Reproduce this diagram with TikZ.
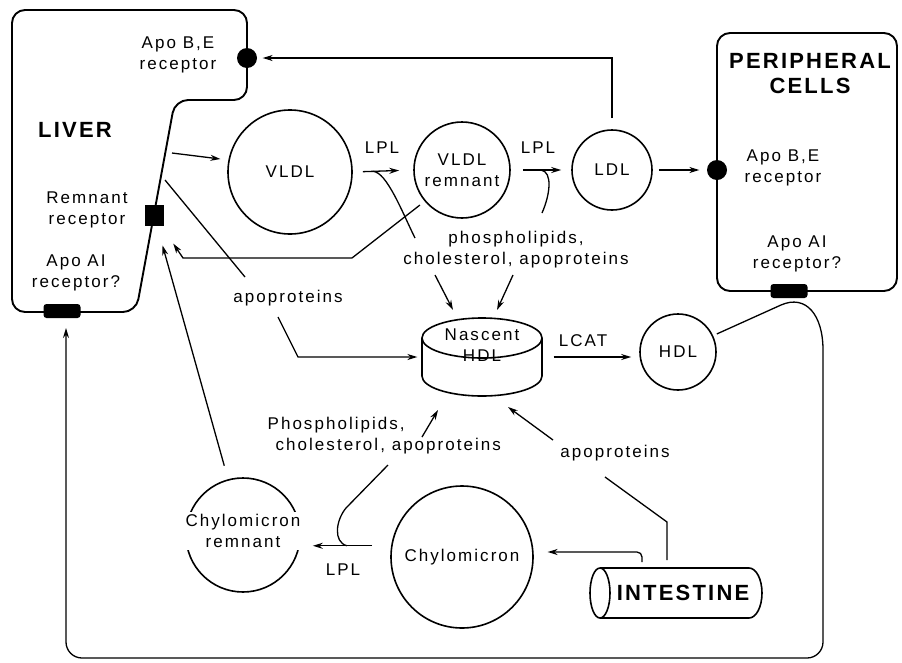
\documentclass[tikz,border=0pt]{standalone}
\usepackage{fontspec}
\setmainfont{Liberation Sans}
\newfontfamily\lblfont[LetterSpace=12]{Liberation Sans}
\newfontfamily\organfont[LetterSpace=10]{Liberation Sans}
\usetikzlibrary{arrows.meta, calc}
\newcommand\txtlbl{\lblfont\fontsize{17}{21}\selectfont}
\newcommand\txtorgan{\organfont\bfseries\fontsize{22}{25}\selectfont}
\tikzset{
  % thin connectors, small filled tips as in the printed figure
  every picture/.append style = {line width=1.3pt, >={Stealth[length=10pt, width=6pt]}},
  flow/.style    = {->, line width=1.3pt},
  link/.style    = {line width=1.3pt},
  lipo/.style    = {circle, draw, line width=1.6pt, inner sep=0pt, align=center, font=\txtlbl},
  lbl/.style     = {font=\txtlbl, align=center, inner sep=1pt},
  organ/.style   = {font=\txtorgan, align=center, inner sep=1pt},
  wall/.style    = {line width=1.9pt, rounded corners=13pt},
  rdot/.style    = {circle, fill=black, minimum size=20pt, inner sep=0pt},
  rsquare/.style = {fill=black, minimum width=19pt, minimum height=21pt, inner sep=0pt},
  rbar/.style    = {rectangle, rounded corners=3pt, fill=black, minimum width=37pt,
                    minimum height=14pt, inner sep=0pt},
}

\begin{document}
\begin{tikzpicture}[x=1pt, y=-1pt]
\useasboundingbox (0,0) rectangle (902,662);

% ---- liver ---------------------------------------------------------------
\draw[wall] (12,150) -- (12,10) -- (247,10) -- (247,100) -- (175,100) -- (136,312)
  -- (12,312) -- cycle;
\node[rdot] (liverBE) at (247,58) {};
\node[rsquare] (liverRem) at (154,215) {};
\node[rbar] (liverAI) at (62,311) {};
\node[organ] (liver) at (75,130) {LIVER};
\node[lbl] (liverBEtxt) at (178,55) {Apo B,E\\receptor};
\node[lbl] (liverRemTxt) at (87,210) {Remnant\\receptor};
\node[lbl] (liverAItxt) at (76,273) {Apo AI\\receptor?};

% ---- peripheral cells ----------------------------------------------------
\draw[wall] (717,33) rectangle (897,291);
\node[rdot] (periBE) at (717,170) {};
\node[rbar] (periAI) at (789,291) {};
\node[organ] (peri) at (810,74) {PERIPHERAL\\CELLS};
\node[lbl] (periBEtxt) at (783,168) {Apo B,E\\receptor};
\node[lbl] (periAItxt) at (797,254) {Apo AI\\receptor?};

% ---- lipoproteins --------------------------------------------------------
\node[lipo, minimum size=124pt] (vldl) at (290,172) {VLDL};
\node[lipo, minimum size=96pt] (rem) at (462,170) {VLDL\\remnant};
\node[lipo, minimum size=80pt] (ldl) at (612,170) {LDL};
\node[lipo, minimum size=76pt] (hdl) at (678,352) {HDL};
\node[lipo, minimum size=142pt] (chy) at (462,557) {Chylomicron};
\node[lipo, minimum size=114pt] (chyR) at (243,535) {};
\node[lbl, fill=white, inner sep=2pt] (chyRtxt) at (243,531) {Chylomicron\\remnant};

% nascent HDL disc
\draw[line width=1.6pt] (482,338) ellipse[x radius=60pt, y radius=20pt];
\draw[line width=1.6pt] (422,338) -- (422,376)
  arc[start angle=180, end angle=360, x radius=60pt, y radius=20pt] -- (542,338);
\node[inner sep=0pt, minimum width=120pt, minimum height=78pt] (nhdl) at (482,357) {};
\node[lbl] (nhdlTxt) at (482,345) {Nascent\\HDL};

% intestine
\draw[line width=1.6pt] (600,593) ellipse[x radius=10pt, y radius=25pt];
\draw[line width=1.6pt] (600,568) -- (749,568)
  arc[start angle=90, end angle=-90, x radius=13pt, y radius=25pt] -- (600,618);
\node[organ] (gut) at (683,593) {INTESTINE};

% ---- labels on the pathways ----------------------------------------------
\node[lbl] (lpl1) at (382,148) {LPL};
\node[lbl] (lpl2) at (538,148) {LPL};
\node[lbl] (lpl3) at (343,570) {LPL};
\node[lbl] (lcat) at (583,341) {LCAT};
\node[lbl] (pcaUp) at (516,250) {phospholipids,\\cholesterol, apoproteins};
\node[lbl, align=left, anchor=west] (pcaLow) at (266,436)
  {Phospholipids,\\\hspace{8pt}cholesterol, apoproteins};
\node[lbl] (apoLeft) at (288,298) {apoproteins};
\node[lbl] (apoRight) at (615,453) {apoproteins};

% free ends of the connectors
\coordinate (liverOut) at (172,153);
\coordinate (liverApo) at (165,180);
\coordinate (apoLeftTop) at (245,277);
\coordinate (apoLeftFoot) at (278,317);
\coordinate (tap1End) at (415,238);
\coordinate (tap2End) at (542,213);
\coordinate (pcaUpL) at (435,275);
\coordinate (pcaUpR) at (513,275);
\coordinate (nhdlNW) at (453,310);
\coordinate (nhdlNE) at (497,310);
\coordinate (pcaLowTip) at (422,437);
\coordinate (nhdlSW) at (438,410);
\coordinate (hook3Mid) at (346,508);
\coordinate (pcaLowFoot) at (388,465);
\coordinate (apoRightTip) at (553,440);
\coordinate (nhdlSE) at (508,407);
\coordinate (apoRightFoot) at (605,477);
\coordinate (gutA) at (642,562);
\coordinate (gutB) at (667,560);
\coordinate (loopEnd) at (66,318);

% ---- liver -> VLDL -> remnant -> LDL -------------------------------------
\draw[flow, shorten >=8pt] (liverOut) -- (vldl.169);
\draw[flow, shorten <=10pt, shorten >=14pt] (vldl.east) -- (rem.west)
  coordinate[pos=0.33] (lplTap1);
\draw[link] (lplTap1) .. controls +(14,0) and +(-12,-24) .. (tap1End);
\draw[flow, shorten <=12pt, shorten >=10pt] (rem.east) -- (ldl.west)
  coordinate[pos=0.5] (lplTap2);
\draw[link] (lplTap2) .. controls +(12,2) and +(8,-18) .. (tap2End);
\draw[flow, shorten <=6pt, shorten >=7pt] (ldl.east) -- (periBE);
\draw[flow, shorten <=11pt, shorten >=5pt] (ldl.north) |- (liverBE);

% ---- back to the liver ---------------------------------------------------
\draw[flow, shorten <=6pt, shorten >=21pt] (rem.220) -- (352,258) -- (183,258) -- (liverRem);
\draw[flow, shorten <=14pt, shorten >=20pt] (chyR.105) -- (liverRem);

% ---- into nascent HDL ----------------------------------------------------
\draw[link] (liverApo) -- (apoLeftTop);
\draw[flow, shorten >=4pt] (apoLeftFoot) -- (298,357) -- (nhdl.west);
\draw[flow] (pcaUpL) -- (nhdlNW);
\draw[flow] (pcaUpR) -- (nhdlNE);
\draw[flow] (pcaLowTip) -- (nhdlSW);
\draw[flow] (apoRightTip) -- (nhdlSE);
\draw[flow, shorten <=11pt, shorten >=8pt] (nhdl.east) -- (nhdl.east -| hdl.west);

% ---- intestine and chylomicrons ------------------------------------------
\draw[flow, rounded corners=5pt, shorten >=14pt] (gutA) |- (chy.4);
\draw[link] (gutB) -- (667,522) -- (apoRightFoot);
\draw[flow, shorten <=19pt, shorten >=12pt] (chy.171) -- (chy.171 -| chyR.east)
  coordinate[pos=0.49] (lplTap3);
\draw[link] (lplTap3) .. controls +(-14,-4) and +(-10,12) .. (hook3Mid) -- (pcaLowFoot);

% ---- HDL round to the liver ----------------------------------------------
\draw[flow, shorten <=4pt, shorten >=10pt] (hdl.25) -- (781,305)
  .. controls (806,294) and (823,315) .. (823,350)
  [rounded corners=16pt] -- (823,658) -- (66,658) -- (loopEnd);
\end{tikzpicture}
\end{document}
